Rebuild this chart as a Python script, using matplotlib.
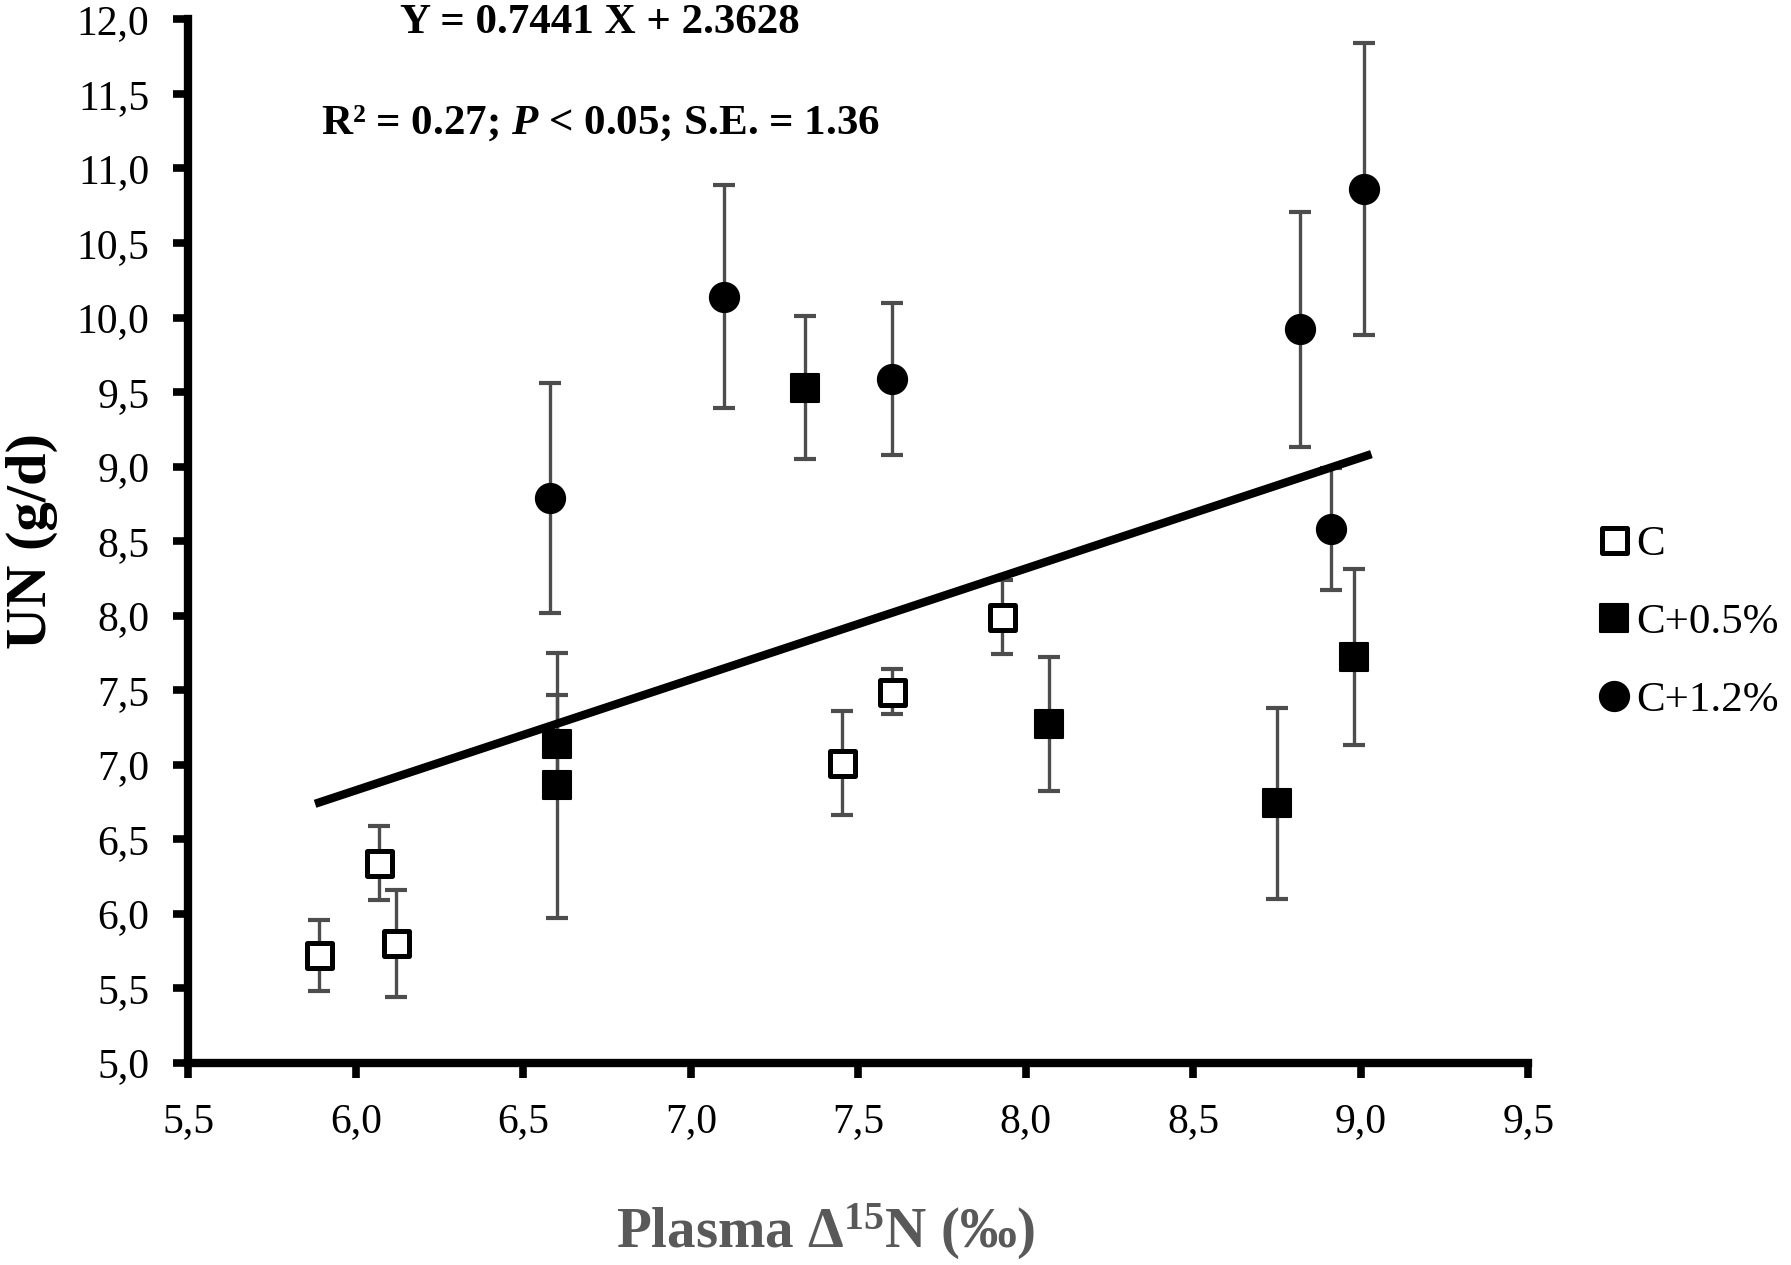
import matplotlib
matplotlib.use('Agg')
import matplotlib.pyplot as plt
from matplotlib.markers import MarkerStyle
from matplotlib.ticker import FuncFormatter, MultipleLocator
import numpy as np

# data
c_x = [5.89, 6.07, 6.12, 7.45, 7.60, 7.93]
c_y = [5.72, 6.34, 5.80, 7.01, 7.49, 7.99]
c_err = [0.24, 0.25, 0.36, 0.35, 0.15, 0.25]

c05_x = [7.34, 6.60, 6.60, 8.07, 8.75, 8.98]
c05_y = [9.53, 7.14, 6.86, 7.27, 6.74, 7.72]
c05_err = [0.48, 0.33, 0.89, 0.45, 0.64, 0.59]

c12_x = [6.58, 7.10, 7.60, 8.82, 8.91, 9.01]
c12_y = [8.79, 10.14, 9.59, 9.92, 8.58, 10.86]
c12_err = [0.77, 0.75, 0.51, 0.79, 0.41, 0.98]

slope, intercept = 0.7441, 2.3628
fit_range = [5.89, 9.02]

plt.rcParams['font.family'] = ['Liberation Serif', 'DejaVu Serif']
plt.rcParams['mathtext.fontset'] = 'custom'
plt.rcParams['mathtext.rm'] = 'Liberation Serif:bold'
plt.rcParams['mathtext.it'] = 'Liberation Serif:italic:bold'
plt.rcParams['mathtext.bf'] = 'Liberation Serif:bold'

fig = plt.figure(figsize=(17.91, 12.65), dpi=100)
ax = fig.add_axes([0.1052, 0.160, 0.7481, 0.8246])

ecol = '#4d4d4d'
eb = dict(fmt='none', ecolor=ecol, elinewidth=2.4, capsize=8, capthick=3, zorder=2)
ax.errorbar(c_x, c_y, yerr=c_err, **eb)
ax.errorbar(c05_x, c05_y, yerr=c05_err, **eb)
ax.errorbar(c12_x, c12_y, yerr=c12_err, **eb)

xf = np.array(fit_range)
ax.plot(xf, slope * xf + intercept, color='black', lw=6, zorder=3)

sq = MarkerStyle('s', joinstyle='round')
h1, = ax.plot(c_x, c_y, ls='none', marker=sq, ms=18, mfc='white', mec='black', mew=3.6,
              zorder=4, label='C')
h2, = ax.plot(c05_x, c05_y, ls='none', marker=sq, ms=20, mfc='black', mec='black', mew=1.5,
              zorder=4, label='C+0.5%')
h3, = ax.plot(c12_x, c12_y, ls='none', marker='o', ms=21.5, mfc='black', mec='black',
              zorder=4, label='C+1.2%')

ax.set_xlim(5.5, 9.5)
ax.set_ylim(5.0, 12.0)
ax.xaxis.set_major_locator(MultipleLocator(0.5))
ax.yaxis.set_major_locator(MultipleLocator(0.5))
fmt = FuncFormatter(lambda v, p: ('%.1f' % v).replace('.', ','))
ax.xaxis.set_major_formatter(fmt)
ax.yaxis.set_major_formatter(fmt)

for s in ['top', 'right']:
    ax.spines[s].set_visible(False)
for s in ['left', 'bottom']:
    ax.spines[s].set_linewidth(6)
ax.tick_params(axis='both', direction='out', length=11, width=5.5, labelsize=30)
ax.tick_params(axis='y', pad=17)
ax.tick_params(axis='x', pad=18)

fig.text(0.018, 0.572, 'UN (g/d)', fontsize=42, fontweight='bold', rotation=90,
         ha='center', va='center')
fig.text(0.461, 0.026, 'Plasma \u0394$^{15}$N (\u2030)', fontsize=41, fontweight='bold',
         color='#595959', ha='center', va='center')

fig.text(0.335, 0.982, 'Y = 0.7441 X + 2.3628', fontsize=31, fontweight='bold',
         ha='center', va='center')
fig.text(0.335, 0.903, 'R\u00b2 = 0.27; $P$ < 0.05; S.E. = 1.36', fontsize=31,
         fontweight='bold', ha='center', va='center')

fig.legend(handles=[h1, h2, h3], loc='center left', bbox_to_anchor=(0.893, 0.508),
           frameon=False, fontsize=31, handlelength=0.7, handletextpad=0.15,
           labelspacing=0.9, borderaxespad=0, borderpad=0)

plt.savefig('out.png', dpi=100)
